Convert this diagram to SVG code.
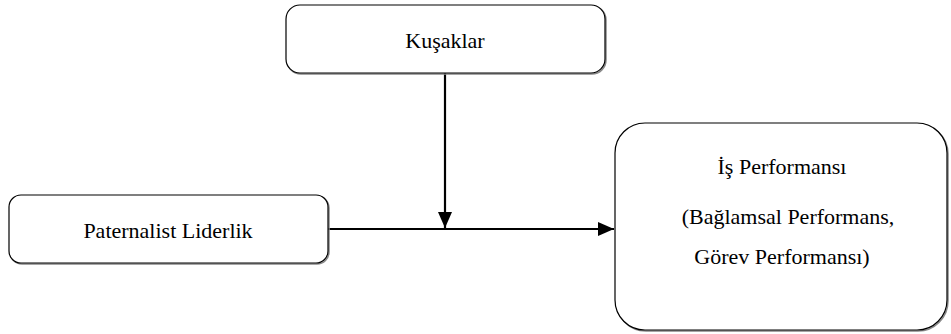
<svg xmlns="http://www.w3.org/2000/svg" width="951" height="334" viewBox="0 0 951 334">
<defs>
<style>
.box{fill:#fff;stroke:#000;stroke-width:1.2}
.sh{fill:none;stroke:#888;stroke-width:1.5}
.ln{stroke:#000;stroke-width:2.2;fill:none}
.t{font-family:"Times New Roman","Liberation Serif",serif;font-size:22px;fill:#000;text-anchor:middle}
</style>
<marker id="ah2" markerWidth="16" markerHeight="16" refX="16" refY="8" orient="auto" markerUnits="userSpaceOnUse" viewBox="0 0 16 16">
<path d="M0,1 L16,8 L0,15 z" fill="#000"/>
</marker>
</defs>
<g id="connectors">
<line class="ln" x1="328" y1="229" x2="614" y2="229" marker-end="url(#ah2)"/>
<line class="ln" x1="445" y1="73" x2="445" y2="228" marker-end="url(#ah2)"/>
</g>
<g id="kusaklar">
<rect class="sh" x="287" y="6" width="319" height="68" rx="14"/>
<rect class="box" x="286" y="5" width="319" height="68" rx="14"/>
<text class="t" x="445" y="48">Kuşaklar</text>
</g>
<g id="paternalist">
<rect class="sh" x="10" y="196" width="319" height="68" rx="12"/>
<rect class="box" x="9" y="195" width="319" height="68" rx="12"/>
<text class="t" x="168" y="238">Paternalist Liderlik</text>
</g>
<g id="performans">
<rect class="sh" x="616" y="124" width="332" height="207" rx="30"/>
<rect class="box" x="615" y="123" width="332" height="207" rx="30"/>
<text class="t" x="782" y="174">İş Performansı</text>
<text class="t" x="788" y="224">(Bağlamsal Performans,</text>
<text class="t" x="782" y="264">Görev Performansı)</text>
</g>
</svg>
